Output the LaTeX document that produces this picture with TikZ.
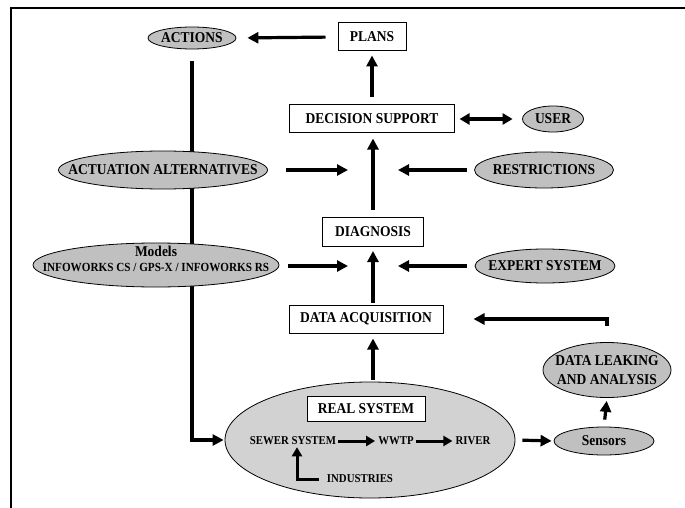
\documentclass[tikz,border=0pt]{standalone}
\usepackage{fontspec}
\setmainfont{Liberation Serif}[FakeStretch=0.9]
\usetikzlibrary{shapes.geometric,arrows.meta,backgrounds}
\definecolor{ellgray}{RGB}{192,192,192}
\definecolor{realgray}{RGB}{210,210,210}
\newcommand{\fs}[1]{\bfseries\fontsize{#1}{#1}\selectfont}
\tikzset{
  box/.style={draw, line width=1pt, fill=white, inner sep=0pt, font=\fs{15}},
  ell/.style={ellipse, draw, line width=0.8pt, fill=ellgray, inner sep=0pt},
  txt/.style={inner sep=0pt, font=\fs{15}, align=center},
  arr/.style={line width=3.2pt, -{Triangle[length=11pt,width=11pt]}},
  darr/.style={line width=3.2pt, {Triangle[length=10pt,width=11pt]}-{Triangle[length=10pt,width=11pt]}},
  sarr/.style={line width=3pt, -{Triangle[length=9pt,width=10pt]}},
  plain/.style={inner sep=0pt, font=\fs{12}}
}
\begin{document}
\begin{tikzpicture}[x=1pt,y=-1pt]
\useasboundingbox (0,0) rectangle (685,508);
% frame
\draw[line width=2.2pt] (11,508) -- (11,8) -- (685,8);

% ellipses
\node[ell, minimum width=88pt, minimum height=22pt] (actions) at (192,38) {};
\node[txt] (actionsT) at (actions) {ACTIONS};
\node[ell, minimum width=61pt, minimum height=26pt] (user) at (553,119) {};
\node[txt] (userT) at (user) {USER};
\node[ell, minimum width=209pt, minimum height=38pt] (act) at (163,170) {};
\node[txt] (actT) at (act) {ACTUATION ALTERNATIVES};
\node[ell, minimum width=139pt, minimum height=36pt] (restr) at (544,170) {};
\node[txt] (restrT) at (restr) {RESTRICTIONS};
\node[ell, minimum width=246pt, minimum height=44pt] (models) at (156,265) {};
\node[txt] (modelsT) at ([yshift=14pt]models.center) {Models};
\node[inner sep=0pt, font=\fs{12.4}] (modelsU) at ([yshift=-2pt]models.center) {INFOWORKS CS / GPS-X / INFOWORKS RS};
\node[ell, minimum width=140pt, minimum height=34pt] (expert) at (545,266) {};
\node[txt] (expertT) at (expert) {EXPERT SYSTEM};
\node[ell, minimum width=128pt, minimum height=55pt] (leak) at (607,370) {};
\node[txt] (leakT) at (leak) {DATA LEAKING\\[4pt]AND ANALYSIS};
\node[ell, minimum width=100pt, minimum height=28pt] (sensors) at (604,441) {};
\node[txt] (sensorsT) at (sensors) {Sensors};
\node[ell, fill=realgray, minimum width=290pt, minimum height=116pt] (real) at (370,440) {};

% boxes
\node[box, minimum width=68pt, minimum height=28pt] (plans) at (372,37) {PLANS};
\node[box, minimum width=165pt, minimum height=28pt] (ds) at (372,119) {DECISION SUPPORT};
\node[box, minimum width=101pt, minimum height=29pt] (diag) at (373,232) {DIAGNOSIS};
\node[box, minimum width=154pt, minimum height=28pt] (da) at (366,319) {DATA ACQUISITION};
\node[box, minimum width=118pt, minimum height=25pt] (realbox) at (366,409) {REAL SYSTEM};
\node[plain] (sewer) at (293,441) {SEWER SYSTEM};
\node[plain] (wwtp) at (396,441) {WWTP};
\node[plain] (river) at (473,441) {RIVER};
\node[plain] (ind) at (360,479) {INDUSTRIES};

% hub coordinates on the central column
\coordinate (hubAL) at (348,170);
\coordinate (hubAR) at (398,170);
\coordinate (hubML) at (348,266);
\coordinate (hubMR) at (398,266);

% connectors
\begin{pgfonlayer}{background}
\draw[arr, shorten <=12pt, shorten >=1pt] (actions.south) |- (real.west);
\end{pgfonlayer}
\draw[arr, shorten <=12pt, shorten >=11pt] (plans.west) -- (actions.east);
\draw[arr, shorten <=7pt, shorten >=4pt] (ds.north) -- (plans.south);
\draw[darr, shorten <=4.5pt, shorten >=9.5pt] (ds.east) -- (user.west);
\draw[arr, shorten <=7pt, shorten >=5pt] (diag.north) -- (diag.north |- ds.south);
\draw[arr, shorten <=18pt] (act.east |- hubAL) -- (hubAL);
\draw[arr, shorten <=7pt] (restr.west) -- (hubAR);
\draw[arr, shorten <=9pt] (models.east |- hubML) -- (hubML);
\draw[arr, shorten <=8pt] (expert.west) -- (hubMR);
\draw[arr, shorten <=2pt, shorten >=4pt] (da.north -| diag.south) -- (diag.south);
\draw[arr, shorten <=2pt, shorten >=5pt] (real.north -| diag.south) -- (da.south -| diag.south);
\draw[arr, shorten <=7pt, shorten >=2pt] (real.east) -- (sensors.west);
\draw[arr, shorten <=7pt, shorten >=3pt] (sensors.north) -- (leak.south);
\draw[arr, shorten <=16pt, shorten >=30pt] (leak.north) |- (da.east);
\draw[sarr, shorten <=2pt, shorten >=3pt] (sewer.east) -- (wwtp.west);
\draw[sarr, shorten <=2pt, shorten >=3pt] (wwtp.east) -- (river.west);
\draw[sarr, shorten <=8pt, shorten >=2pt] (ind.west) -| ([xshift=4pt]sewer.south);
\end{tikzpicture}
\end{document}
